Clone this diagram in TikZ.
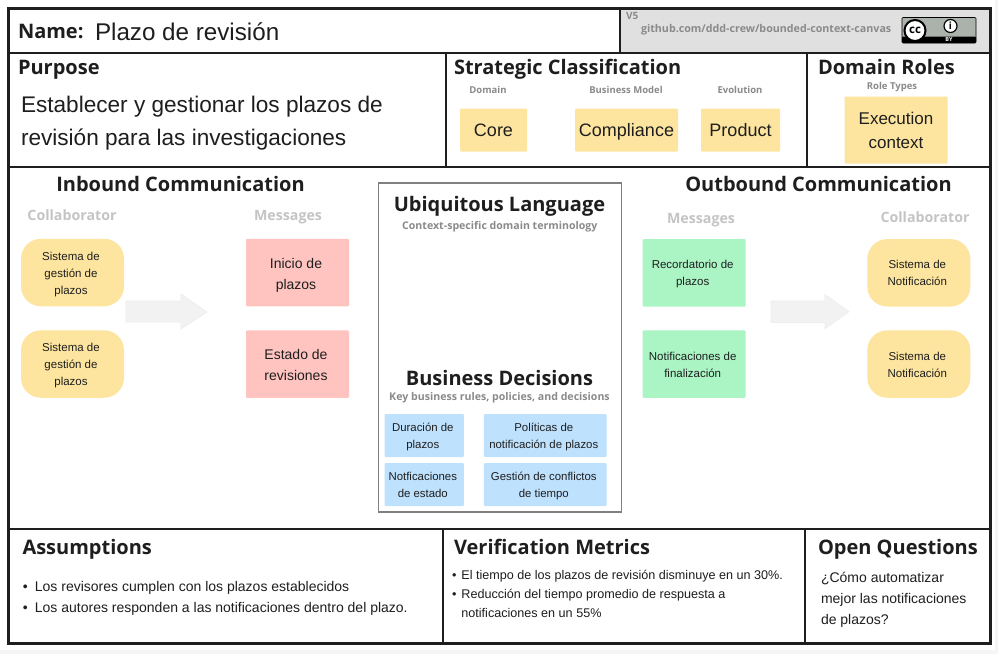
\documentclass[tikz,border=0pt]{standalone}
\usepackage{fontspec}
\setmainfont{Open Sans}
\newfontfamily\bodyf{Liberation Sans}
\usetikzlibrary{shapes.geometric}
\definecolor{ylw}{HTML}{FDE59F}
\definecolor{rd}{HTML}{FFC4C0}
\definecolor{grn}{HTML}{ABF5C5}
\definecolor{blu}{HTML}{BEE1FD}
\definecolor{ink}{HTML}{1E1E1E}
\definecolor{lbl}{HTML}{8A8A8A}
\definecolor{lgt}{HTML}{C4C4C4}
\definecolor{ccg}{HTML}{AAB2AB}
\newcommand\dn[2][2pt]{\hspace*{-3pt}\raisebox{-#1}[\height][\depth]{\begin{tabular}{@{}c@{}}#2\end{tabular}}}
\tikzset{
 x=1pt,y=-1pt,
 every node/.style={inner sep=0pt,outer sep=0pt,text=ink},
 cell/.style={draw=ink,line width=1.8pt},
 outer/.style={draw=ink,line width=3pt},
 title/.style={font=\fontsize{20}{24}\selectfont\bfseries},
 subt/.style={font=\fontsize{10.6}{13}\selectfont\bfseries,text=lbl},
 tiny/.style={font=\fontsize{9.5}{12}\selectfont\bfseries,text=lbl},
 head/.style={font=\fontsize{14.2}{16}\selectfont\bfseries,text=lgt},
 sticky/.style={fill=ylw,rounded corners=1pt,align=center,font=\bodyf\fontsize{18}{24}\selectfont},
 single/.style={text height=15pt,text depth=2pt},
 collab/.style={fill=ylw,rounded corners=20pt,minimum width=103pt,minimum height=67.5pt,align=center,font=\bodyf\fontsize{11.5}{17}\selectfont},
 msg/.style={fill=rd,rounded corners=1pt,minimum width=103pt,minimum height=67.5pt,align=center,font=\bodyf\fontsize{14}{21}\selectfont},
 msgo/.style={fill=grn,rounded corners=1pt,minimum width=103pt,minimum height=67.5pt,align=center,font=\bodyf\fontsize{11.5}{17}\selectfont},
 deci/.style={fill=blu,rounded corners=1pt,minimum height=43pt,align=center,font=\bodyf\fontsize{11.4}{17}\selectfont},
 body/.style={font=\bodyf\fontsize{14}{21}\selectfont,align=left,anchor=west},
 big/.style={fill=black!5,draw=black!7,line width=.6pt},
}
\begin{document}
\begin{tikzpicture}
\useasboundingbox (0,0) rectangle (998,654);
\fill[white] (0,0) rectangle (998,654);
\fill[black!4] (995,0) rectangle (998,654);
\fill[black!4] (0,650) rectangle (998,654);
% canvas
\fill[black!12] (620,9) rectangle (990,53);
\draw[cell] (620,9) -- (620,53);
\draw[cell] (8,53) -- (990,53);
\draw[cell] (8,167) -- (990,167);
\draw[cell] (8,529) -- (990,529);
\draw[cell] (446,53) -- (446,167);
\draw[cell] (807,53) -- (807,167);
\draw[cell] (443,529) -- (443,643);
\draw[cell] (805,529) -- (805,643);
\draw[outer] (8,8) rectangle (990,643);
% header
\node[anchor=west,font=\fontsize{20}{24}\selectfont\bfseries] (nm) at (18,31) {Name:};
\node[anchor=west,font=\bodyf\fontsize{24.2}{28}\selectfont] (nmv) at (95,32) {Plazo de revisión};
\node[anchor=west,font=\fontsize{10}{12}\selectfont\bfseries,text=lbl] (ver) at (626,16) {V5};
\node[anchor=west,font=\fontsize{10.7}{12}\selectfont\bfseries,text=lbl] (gh) at (641,30) {github.com/ddd-crew/bounded-context-canvas};
% cc badge
\fill[ccg,draw=black,line width=.6pt,rounded corners=1pt] (902,17.5) rectangle (976,43);
\fill[black,rounded corners=1pt] (902,36.7) rectangle (976,43);
\node[font=\fontsize{5.5}{6}\selectfont\bfseries,text=white] (by) at (949,40) {BY};
\node[circle,fill=white,draw=black,line width=2pt,minimum size=21pt,font=\fontsize{11.5}{11}\selectfont\bfseries,text=black] (cc) at (915,30.5) {cc};
\node[circle,fill=white,draw=black,line width=1.2pt,minimum size=13pt,font=\fontsize{10}{10}\selectfont\bfseries,text=black] (ic) at (950.5,26) {i};
% purpose
\node[anchor=base west,title] (pu) at (18,74) {Purpose};
\node[anchor=west,font=\bodyf\fontsize{22.6}{33}\selectfont,align=left] (puv) at (21,123.5) {Establecer y gestionar los plazos de\\revisión para las investigaciones};
% strategic
\node[anchor=base west,title] (sc) at (454,74) {Strategic Classification};
\node[tiny] (d1) at (488,90) {Domain};
\node[tiny] (d2) at (626,90) {Business Model};
\node[tiny] (d3) at (740,90) {Evolution};
\node[sticky,single,minimum width=67pt,minimum height=43pt] (core) at (493.5,130) {Core};
\node[sticky,single,minimum width=103pt,minimum height=43pt] (comp) at (626.5,130) {Compliance};
\node[sticky,single,minimum width=79pt,minimum height=43pt] (prod) at (740.5,130) {Product};
\node[anchor=base west,title] (dr) at (818,74) {Domain Roles};
\node[tiny] (rt) at (892,87) {Role Types};
\node[sticky,font=\bodyf\fontsize{17}{24}\selectfont,minimum width=103pt,minimum height=67pt] (exec) at (896,130) {Execution\\context};
% inbound
\node[title] (ib) at (180.5,184) {Inbound Communication};
\node[head] (c1) at (72,215) {Collaborator};
\node[head] (m1) at (288,217) {Messages};
\node[collab] (a1) at (72.5,272.5) {\dn{Sistema de\\gestión de\\plazos}};
\node[collab] (a2) at (72.5,364) {\dn[1pt]{Sistema de\\gestión de\\plazos}};
\node[msg] (b1) at (297.5,272.5) {\dn[2pt]{Inicio de\\plazos}};
\node[msg] (b2) at (297.5,364) {\dn[1.5pt]{Estado de\\revisiones}};
\filldraw[big] (126,301) -- (181,301) -- (181,294) -- (207,312) -- (181,329) -- (181,322) -- (126,322) -- cycle;
% ubiquitous
\node[draw=black!50,line width=1.6pt,fill=white,minimum width=243pt,minimum height=329pt] (ul) at (499.8,347.3) {};
\node[font=\fontsize{20}{25}\selectfont\bfseries] (ult) at (499.5,206) {Ubiquitous Language};
\node[subt] (uls) at (499.8,227) {Context-specific domain terminology};
\node[font=\fontsize{20}{25}\selectfont\bfseries] (bdt) at (499.5,378) {Business Decisions};
\node[subt] (bds) at (499.5,398) {Key business rules, policies, and decisions};
\node[deci,minimum width=79.3pt] (e1) at (424.3,435.5) {\dn[1pt]{Duración de\\plazos}};
\node[deci,minimum width=122.7pt] (e2) at (545.3,435.5) {\dn[1pt]{Políticas de\\notificación de plazos}};
\node[deci,minimum width=79.3pt] (e3) at (424.3,484.5) {\dn[1pt]{Notficaciones\\de estado}};
\node[deci,minimum width=122.7pt] (e4) at (545.3,484.5) {\dn[1.5pt]{Gestión de conflictos\\de tiempo}};
% outbound
\node[title] (ob) at (818.5,184) {Outbound Communication};
\node[head] (m2) at (701,220) {Messages};
\node[head] (c2) at (925,217) {Collaborator};
\node[msgo] (g1) at (694.2,272.8) {\dn[1pt]{Recordatorio de\\plazos}};
\node[msgo] (g2) at (694.2,364) {\dn[1.5pt]{Notificaciones de\\finalización}};
\node[collab] (h1) at (918.8,272.8) {\dn[1pt]{Sistema de\\Notificación}};
\node[collab] (h2) at (918.8,364) {\dn[1.5pt]{Sistema de\\Notificación}};
\filldraw[big] (771,301) -- (825,301) -- (825,294.5) -- (849,311.7) -- (825,328.7) -- (825,322.5) -- (771,322.5) -- cycle;
% bottom
\node[anchor=base west,title] (as) at (22.5,554) {Assumptions};
\node[anchor=base west,title] (vm) at (454,554) {Verification Metrics};
\node[anchor=base west,title] (oq) at (818,554) {Open Questions};
\node[body] (asv) at (23,598) {\textbullet\hspace{7pt}Los revisores cumplen con los plazos establecidos\\\textbullet\hspace{7pt}Los autores responden a las notificaciones dentro del plazo.};
\node[body,font=\bodyf\fontsize{12.6}{19}\selectfont] (vmv) at (452,594) {\textbullet\hspace{5pt}El tiempo de los plazos de revisión disminuye en un 30\%.\\\textbullet\hspace{5pt}Reducción del tiempo promedio de respuesta a\\\hspace{9.4pt}notificaciones en un 55\%};
\node[body,font=\bodyf\fontsize{14}{21}\selectfont] (oqv) at (821,600) {¿Cómo automatizar\\mejor las notificaciones\\de plazos?};
\end{tikzpicture}
\end{document}
